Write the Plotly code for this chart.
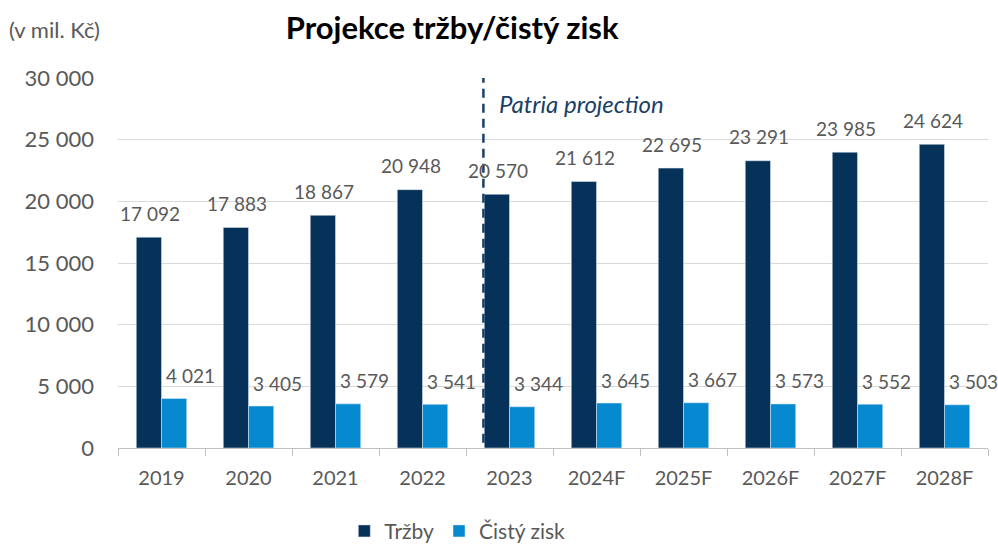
import plotly.graph_objects as go

years = ["2019", "2020", "2021", "2022", "2023", "2024F", "2025F", "2026F", "2027F", "2028F"]
trzby = [17092, 17883, 18867, 20948, 20570, 21612, 22695, 23291, 23985, 24624]
zisk = [4021, 3405, 3579, 3541, 3344, 3645, 3667, 3573, 3552, 3503]

navy = "#06325A"
blue = "#0789D0"
grey = "#595959"
font = "Lato"


def fmt(v):
    return "{:,}".format(v).replace(",", " ")


fig = go.Figure()
fig.add_trace(go.Bar(x=years, y=trzby, name="Tržby", marker_color=navy))
fig.add_trace(go.Bar(x=years, y=zisk, name="Čistý zisk", marker_color=blue))

# value labels, offset like the excel ones (x = category index, "2019" would be read as an index)
for i, v in enumerate(trzby):
    fig.add_annotation(x=i, y=v, text=fmt(v), showarrow=False, xshift=-12, yshift=24,
                       font=dict(size=19, color=grey, family=font))
for i, v in enumerate(zisk):
    fig.add_annotation(x=i, y=v, text=fmt(v), showarrow=False, xshift=29, yshift=23,
                       font=dict(size=19, color=grey, family=font))

# projection divider
fig.add_shape(type="line", xref="x", yref="y", x0=3.7, x1=3.7, y0=-2000, y1=30250,
              line=dict(color="#1B3F66", width=2.5, dash="9px,6px"))
fig.add_annotation(x=3.7, y=27950, text="<i>Patria projection</i>", showarrow=False,
                   xanchor="left", xshift=14, font=dict(size=24, color="#1B3F66", family=font))

fig.add_annotation(xref="paper", yref="paper", x=-0.128, y=1.13, xanchor="left", yanchor="middle",
                   text="(v mil. Kč)", showarrow=False, font=dict(size=22, color=grey, family=font))

fig.update_layout(
    width=998, height=546,
    margin=dict(l=118, r=10, t=78, b=98, autoexpand=False),
    paper_bgcolor="white", plot_bgcolor="white",
    title=dict(text="<b>Projekce tržby/čistý zisk</b>", x=0.453, xanchor="center",
               y=0.948, yanchor="middle",
               font=dict(size=31, color="black", family=font)),
    barmode="group", bargap=0.42, bargroupgap=0,
    font=dict(family=font, color=grey),
    separators=". ",
    legend=dict(orientation="h", x=0.39, xanchor="center", y=-0.225, yanchor="middle",
                font=dict(size=21, color=grey, family=font), itemwidth=30),
    xaxis=dict(type="category", range=[-0.5, len(years) - 0.5], showline=True,
               linecolor="#BFBFBF", linewidth=1, ticks="outside",
               tickson="boundaries", ticklen=7, tickcolor="#BFBFBF", ticklabelstandoff=12,
               tickfont=dict(size=20, color=grey, family=font)),
    yaxis=dict(range=[0, 30000], dtick=5000, showgrid=True, gridcolor="#D9D9D9",
               zeroline=False, tickformat=",", ticklabelstandoff=23,
               tickfont=dict(size=22, color=grey, family=font)),
)

# drop the page's default body margin so the figure sits at the window corner
fig.write_html("out.html", config={"displayModeBar": False},
               post_script="document.body.style.margin='0';")
